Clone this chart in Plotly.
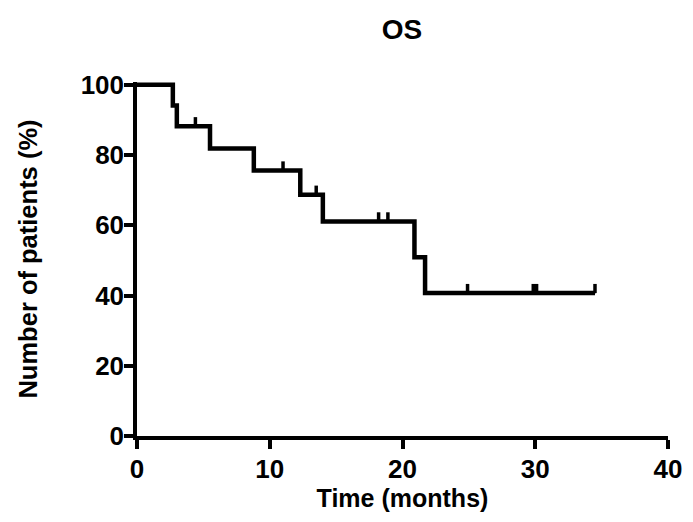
import plotly.graph_objects as go

# Kaplan-Meier steps (time in months, survival %)
step_times = [0, 2.7, 3.0, 5.5, 8.8, 12.3, 14.0, 20.9, 21.7, 34.5]
step_surv = [100, 94.1, 88.2, 81.9, 75.6, 68.7, 61.1, 50.9, 40.7, 40.7]

# censored observations
cens_times = [4.4, 11.0, 13.5, 18.2, 18.9, 24.9, 29.85, 30.1, 34.5]
cens_surv = [88.2, 75.6, 68.7, 61.1, 61.1, 40.7, 40.7, 40.7, 40.7]

x_ticks = [0, 10, 20, 30, 40]
y_ticks = [0, 20, 40, 60, 80, 100]

font_main = 'Liberation Sans, Arial, sans-serif'
tick_up = 2.6  # height of censor ticks, in % units

fig = go.Figure()
fig.add_trace(go.Scatter(x=step_times, y=step_surv, mode='lines', line_shape='hv',
                         line=dict(color='black', width=4.5), showlegend=False))
# censor ticks drawn as one-sided error bars above the curve
fig.add_trace(go.Scatter(x=cens_times, y=cens_surv, mode='markers', cliponaxis=False,
                         marker=dict(size=1, color='black'),
                         error_y=dict(type='constant', value=tick_up, valueminus=0, symmetric=False,
                                      width=0, thickness=3.5, color='black'),
                         showlegend=False))

fig.update_layout(
    width=693, height=522,
    paper_bgcolor='white', plot_bgcolor='white',
    margin=dict(l=137, r=25, t=82, b=86),
    title=dict(text='<b>OS</b>', x=0.58, xanchor='center', xref='container',
               y=0.945, yanchor='middle', yref='container',
               font=dict(family=font_main, size=28, color='black')),
    xaxis=dict(range=[0, 40], tickvals=x_ticks, ticktext=[f'<b>{v}</b>' for v in x_ticks],
               automargin=False,
               showgrid=False, zeroline=False, showline=True, linecolor='black', linewidth=3.5,
               ticks='outside', ticklen=9, tickwidth=3.5, tickcolor='black',
               ticklabelstandoff=-2,
               tickfont=dict(family=font_main, size=26, color='black'),
               title=dict(text='<b>Time (months)</b>', standoff=3,
                          font=dict(family=font_main, size=25, color='black'))),
    yaxis=dict(range=[0, 100.8], tickvals=y_ticks, ticktext=[f'<b>{v}</b>' for v in y_ticks],
               automargin=False,
               showgrid=False, zeroline=False, showline=True, linecolor='black', linewidth=3.5,
               ticks='outside', ticklen=9, tickwidth=3.5, tickcolor='black',
               ticklabelstandoff=-5,
               tickfont=dict(family=font_main, size=26, color='black'),
               title=dict(text='<b>Number of patients (%)</b>', standoff=37,
                          font=dict(family=font_main, size=25.5, color='black'))),
)

fig.write_html("out.html", config={'displayModeBar': False},
               post_script="document.body.style.margin='0';")
